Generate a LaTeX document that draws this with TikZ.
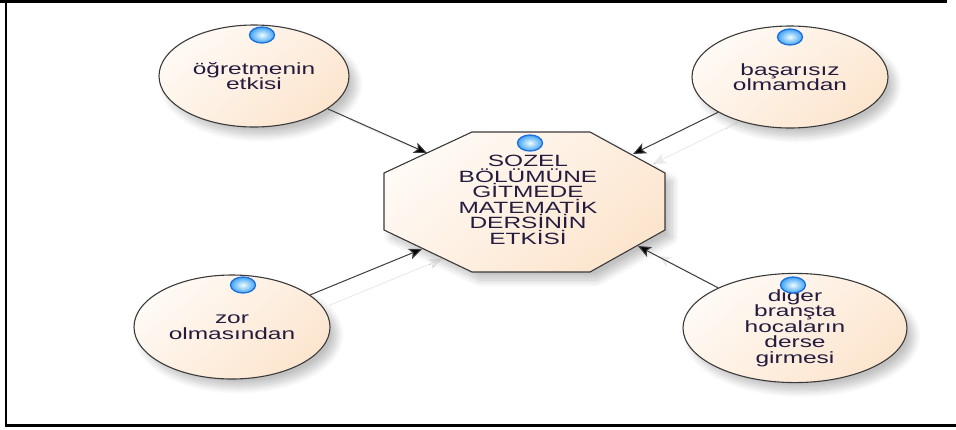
\documentclass[tikz,border=0pt]{standalone}
\usepackage{fontspec}
\setmainfont{Liberation Sans}
\newfontfamily\widefont[FakeStretch=1.5]{Liberation Sans}
\usetikzlibrary{shapes.geometric,arrows.meta,shadows.blur}
\pgfdeclarelayer{background}
\pgfsetlayers{background,main}

\definecolor{peachA}{HTML}{FFFAF5}
\definecolor{peachB}{HTML}{FCE5CE}
\definecolor{outl}{HTML}{3A3A3A}
\definecolor{txt}{HTML}{241C3E}
\definecolor{dotrim}{HTML}{1E6FD9}
\definecolor{dotin}{HTML}{EEFCFF}
\definecolor{dotout}{HTML}{3FA3F4}
\definecolor{linkc}{HTML}{3C3C3C}

\begin{document}
\begin{tikzpicture}[x=1pt,y=-1pt,
  shapeshadow/.style={blur shadow={shadow xshift=7pt, shadow yshift=-8pt, shadow blur steps=10, shadow opacity=24, shadow blur radius=7pt}},
  peachfill/.style={top color=peachA, bottom color=peachB, shading angle=40},
  txtstyle/.style={font=\widefont\fontsize{16.3}{15.5}\selectfont, text=txt, align=center},
  bubble/.style={ellipse, draw=outl, line width=1.1pt, inner sep=0pt, peachfill, shapeshadow, txtstyle},
  bluedot/.style={ellipse, minimum width=25pt, minimum height=16pt, inner sep=0pt, draw=dotrim, line width=1.3pt, inner color=dotin, outer color=dotout},
  link/.style={draw=linkc, line width=1pt, -{Stealth[length=13pt,width=11pt,inset=3pt,fill=black]}},
  ghost/.style={draw=gray!16, line width=1pt, -{Stealth[length=13pt,width=11pt,inset=3pt,fill=gray!16]}, transform canvas={shift={(20pt,-10pt)}}}
]
\useasboundingbox (0,0) rectangle (956,429);

% frame
\draw[line width=2.5pt] (0,1.3) -- (947,1.3);
\draw[line width=2.5pt] (6,0) -- (6,427);
\draw[line width=3pt] (5,425.5) -- (956,425.5);

% central octagon
\path[draw=outl, line width=1.1pt, peachfill, shapeshadow]
  (472,132) -- (590,132) -- (665,173) -- (665,230) -- (590,272)
  -- (472,272) -- (384,230) -- (384,173) -- cycle;
\node[txtstyle] (oct) at (528,200) {SOZEL\\BÖLÜMÜNE\\GİTMEDE\\MATEMATİK\\DERSİNİN\\ETKİSİ};

% arrow tips on octagon boundary
\coordinate (t1) at (427,153);
\coordinate (t2) at (633,154);
\coordinate (t3) at (422,249);
\coordinate (t4) at (638,246);

% bubbles
\node[bubble, minimum width=190pt, minimum height=102pt] (e1) at (254,76) {öğretmenin\\etkisi};
\node[bubble, minimum width=196pt, minimum height=102pt] (e2) at (790,77) {başarısız\\olmamdan};
\node[bubble, minimum width=196pt, minimum height=104pt] (e3) at (232,327) {zor\\olmasından};
\node[bubble, minimum width=224pt, minimum height=106pt] (e4) at (795,328) {diger\\branşta\\hocaların\\derse\\girmesi};

% blue dots
\node[bluedot] (d1) at (262,35) {};
\node[bluedot] (d2) at (790,37) {};
\node[bluedot] (d3) at (243,285) {};
\node[bluedot] (d4) at (793,285) {};
\node[bluedot] (d5) at (530,143) {};

% faint connector shadows
\begin{pgfonlayer}{background}
\draw[ghost] (e1) -- (t1);
\draw[ghost] (e2) -- (t2);
\draw[ghost] (e3) -- (t3);
\draw[ghost] (e4) -- (t4);
\end{pgfonlayer}

% connectors
\draw[link] (e1) -- (t1);
\draw[link] (e2) -- (t2);
\draw[link] (e3) -- (t3);
\draw[link] (e4) -- (t4);
\end{tikzpicture}
\end{document}
